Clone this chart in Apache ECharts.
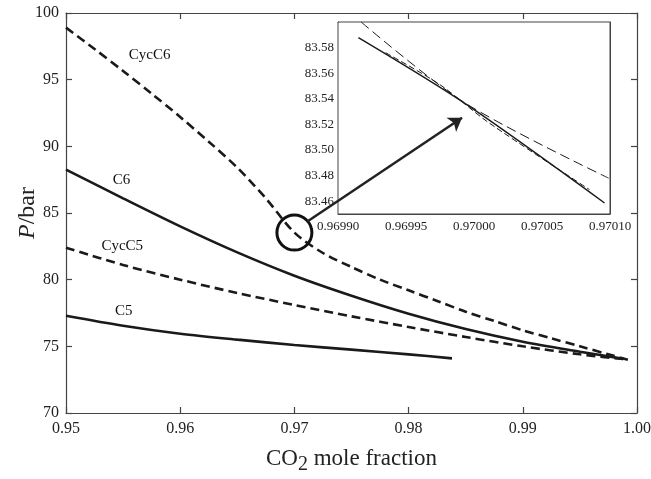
<!DOCTYPE html>
<html><head><meta charset="utf-8">
<script src="https://cdn.jsdelivr.net/npm/echarts@6/dist/echarts.min.js"></script>
<style>html,body{margin:0;padding:0;background:#fff}#c{width:651px;height:479px}</style>
</head><body><div id="c"></div>
<script>
// ---- data ----
const cycC6X = [0.95,0.9525,0.955,0.9575,0.96,0.9625,0.965,0.9675,0.97,0.9725,0.975,0.9775,0.98,0.9825,0.985,0.9875,0.99,0.9925,0.995,0.9975,0.9992];
const cycC6Y = [98.9,97.3,95.65,93.95,92.2,90.35,88.4,86.1,83.53,82.0,80.95,80.0,79.2,78.4,77.6,76.9,76.2,75.6,75.0,74.4,74.0];
const c6X = [0.95,0.955,0.96,0.965,0.97,0.975,0.98,0.985,0.99,0.995,0.9988];
const c6Y = [88.25,86.1,84.0,82.05,80.3,78.8,77.45,76.3,75.35,74.6,74.06];
const cycC5X = [0.95,0.955,0.96,0.965,0.97,0.975,0.98,0.985,0.99,0.995,0.9988];
const cycC5Y = [82.4,81.1,80.0,79.0,78.1,77.25,76.45,75.7,75.0,74.4,74.05];
const c5X = [0.95,0.955,0.96,0.965,0.97,0.975,0.98,0.9838];
const c5Y = [77.3,76.55,75.95,75.5,75.1,74.75,74.4,74.1];
// inset (zoom near x = 0.97)
const insetLongX = [0.969917, 0.969993, 0.970099];
const insetLongY = [83.600, 83.537, 83.478];
const insetSolidX = [0.969915, 0.969993, 0.970096];
const insetSolidY = [83.5878, 83.5366, 83.4586];
const insetDashX = [0.969935, 0.969975, 0.97001, 0.970085];
const insetDashY = [83.576, 83.551, 83.522, 83.469];
const insetXTicks = [0.9699, 0.96995, 0.97, 0.97005, 0.9701];
const insetYTicks = [83.46, 83.48, 83.50, 83.52, 83.54, 83.56, 83.58];
// curve labels: [name, x, y]
const curveLabels = [["CycC6",0.9555,96.87],["C6",0.9541,87.5],["CycC5",0.9531,82.54],["C5",0.9543,77.67]];
const circlePoint = [0.97, 83.53];
const arrowFrom = [0.9711, 84.34];
const arrowTo = [0.98468, 92.15];

const zip = (xs, ys) => xs.map((x, i) => [x, ys[i]]);
const FONT = 'Liberation Serif';
const INK = '#1a1a1a';
const AX = {color:'#444', width:1.2};

const chart = echarts.init(document.getElementById('c'), null, {renderer:'canvas'});

function mainX(pos, show) {
  return {
    gridIndex:0, type:'value', position:pos, min:0.95, max:1.0, interval:0.01,
    axisLine:{show:true, onZero:false, lineStyle:AX},
    axisTick:{show:true, inside:true, length:6, lineStyle:AX},
    axisLabel:{show:show, formatter:v=>v.toFixed(2), fontFamily:FONT, fontSize:16, color:'#222', margin:8},
    splitLine:{show:false}
  };
}
function mainY(pos, show) {
  return {
    gridIndex:0, type:'value', position:pos, min:70, max:100, interval:5,
    axisLine:{show:true, onZero:false, lineStyle:AX},
    axisTick:{show:true, inside:true, length:6, lineStyle:AX},
    axisLabel:{show:show, fontFamily:FONT, fontSize:16, color:'#222', margin:7},
    splitLine:{show:false}
  };
}
function insetX(pos, show) {
  return {
    gridIndex:1, type:'value', position:pos, min:0.9699, max:0.9701,
    axisLine:{show:true, onZero:false, lineStyle:{color:'#444', width:1}},
    axisTick:{show:true, inside:true, length:4, customValues:insetXTicks, lineStyle:{color:'#444', width:1}},
    axisLabel:{show:show, customValues:insetXTicks, formatter:v=>v.toFixed(5), fontFamily:FONT, fontSize:13, color:'#222', margin:6},
    splitLine:{show:false}
  };
}
function insetY(pos, show) {
  return {
    gridIndex:1, type:'value', position:pos, min:83.45, max:83.60,
    axisLine:{show:true, onZero:false, lineStyle:{color:'#444', width:1}},
    axisTick:{show:true, inside:true, length:4, customValues:insetYTicks, lineStyle:{color:'#444', width:1}},
    axisLabel:{show:show, customValues:insetYTicks, formatter:v=>v.toFixed(2), fontFamily:FONT, fontSize:13, color:'#222', margin:4},
    splitLine:{show:false}
  };
}

const xb = mainX('bottom', true);
xb.name = '{n|CO}{s|2}{n| mole fraction}';
xb.nameLocation = 'middle';
xb.nameGap = 30;
xb.nameMoveOverlap = false;
xb.nameTextStyle = {fontFamily:FONT, color:'#222', rich:{
  n:{fontFamily:FONT, fontSize:23, color:'#222'},
  s:{fontFamily:FONT, fontSize:20, color:'#222', verticalAlign:'top', padding:[12,0,0,0]}
}};
const yl = mainY('left', true);
yl.name = '{i|P}{n|/bar}';
yl.nameLocation = 'middle';
yl.nameGap = 26;
yl.nameRotate = 90;
yl.nameMoveOverlap = false;
yl.nameTextStyle = {rich:{
  i:{fontFamily:FONT, fontSize:24, fontStyle:'italic', color:'#222'},
  n:{fontFamily:FONT, fontSize:24, color:'#222'}
}};

function line(name, xs, ys, dashed, xi, yi, width) {
  return {
    name, type:'line', xAxisIndex:xi, yAxisIndex:yi, data:zip(xs, ys),
    showSymbol:false, symbol:'none', smooth:0.3,
    lineStyle:{color:INK, width:width, type:dashed}, silent:true, z:3
  };
}

const option = {
  animation:false,
  backgroundColor:'#fff',
  grid:[
    {left:66, right:14, top:13, bottom:66, outerBoundsMode:'none', containLabel:false},
    {left:338, right:41, top:22, bottom:265, outerBoundsMode:'none', containLabel:false, show:true, backgroundColor:'#fff', borderColor:'#444', borderWidth:1, z:1}
  ],
  xAxis:[xb, mainX('top', false), insetX('bottom', true), insetX('top', false)],
  yAxis:[yl, mainY('right', false), insetY('left', true), insetY('right', false)],
  series:[
    line('CycC6', cycC6X, cycC6Y, [9,5], 0, 0, 2.6),
    line('C6', c6X, c6Y, 'solid', 0, 0, 2.6),
    line('CycC5', cycC5X, cycC5Y, [9,5], 0, 0, 2.6),
    line('C5', c5X, c5Y, 'solid', 0, 0, 2.6),
    line('insetLong', insetLongX, insetLongY, [10,5], 2, 2, 1),
    line('insetSolid', insetSolidX, insetSolidY, 'solid', 2, 2, 1.4),
    line('insetDash', insetDashX, insetDashY, [6,3], 2, 2, 1),
    {
      name:'labels', type:'scatter', xAxisIndex:0, yAxisIndex:0, symbolSize:0, silent:true,
      itemStyle:{opacity:1},
      data:curveLabels.map(d => ({name:d[0], value:[d[1], d[2]]})),
      label:{show:true, position:'inside', align:'left', verticalAlign:'middle', formatter:p=>p.name,
        fontFamily:FONT, fontSize:15, color:'#111'}
    },
    {
      name:'circle', type:'scatter', xAxisIndex:0, yAxisIndex:0, symbol:'circle', symbolSize:35, silent:true, z:4,
      data:[circlePoint], itemStyle:{color:'rgba(0,0,0,0)', borderColor:'#111', borderWidth:3, opacity:1}
    },
    {
      name:'arrow', type:'line', xAxisIndex:0, yAxisIndex:0, data:[], silent:true, z:5,
      markLine:{
        silent:true, symbol:['none','arrow'], symbolSize:13, label:{show:false},
        itemStyle:{color:'#222'},
        lineStyle:{color:'#222', width:2.5, type:'solid', opacity:1},
        data:[[{coord:arrowFrom}, {coord:arrowTo}]]
      }
    }
  ]
};
chart.setOption(option);
</script>
</body></html>
